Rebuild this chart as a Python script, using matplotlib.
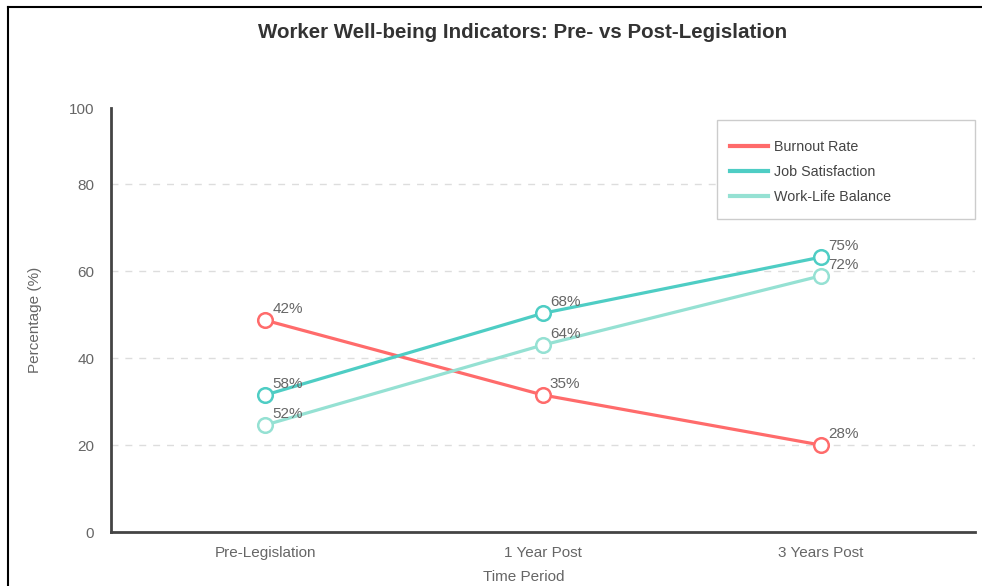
import matplotlib
matplotlib.use("Agg")
import matplotlib.pyplot as plt
from matplotlib.lines import Line2D
from matplotlib.patches import Rectangle

plt.rcParams['font.family'] = ['Liberation Sans', 'DejaVu Sans']

categories = ["Pre-Legislation", "1 Year Post", "3 Years Post"]
series_names = ["Burnout Rate", "Job Satisfaction", "Work-Life Balance"]
burnout = [48.7, 31.5, 20.0]
job_satisfaction = [31.5, 50.3, 63.2]
work_life = [24.6, 43.0, 58.9]
burnout_labels = ["42%", "35%", "28%"]
job_labels = ["58%", "68%", "75%"]
wlb_labels = ["52%", "64%", "72%"]
colors = ["#FF6B6B", "#4ECDC4", "#95E1D3"]
ytick_vals = [0, 20, 40, 60, 80, 97.5]
ytick_labels = ["0", "20", "40", "60", "80", "100"]
grid_vals = [20, 40, 60, 80]

W, H = 982, 586
fig = plt.figure(figsize=(W / 100, H / 100), dpi=100)

# outer frame (top and left visible)
fig.add_artist(Line2D([8 / W, 8 / W], [0, 1 - 7 / H], transform=fig.transFigure, color="black", lw=1.5))
fig.add_artist(Line2D([8 / W, 1], [1 - 7 / H, 1 - 7 / H], transform=fig.transFigure, color="black", lw=1.5))

left, right, top, bottom = 111, 975, 108, 532
ax = fig.add_axes([left / W, (H - bottom) / H, (right - left) / W, (bottom - top) / H])


def px2ax(px, py):
    return (px - left) / (right - left), (bottom - py) / (bottom - top)


x = list(range(len(categories)))
all_vals = [burnout, job_satisfaction, work_life]
all_labels = [burnout_labels, job_labels, wlb_labels]

for g in grid_vals:
    ax.axhline(g, color="#dddddd", lw=1, ls=(0, (5, 5)), zorder=0)

for vals, labs, name, c in zip(all_vals, all_labels, series_names, colors):
    ax.plot(x, vals, color=c, lw=2.3, marker="o", markersize=10.5, markerfacecolor="white",
            markeredgecolor=c, markeredgewidth=1.8, label=name, zorder=3)
    for xi, v, lab in zip(x, vals, labs):
        ax.annotate(lab, (xi, v), xytext=(5, 3), textcoords="offset points",
                    ha="left", va="bottom", fontsize=11, color="#666666", zorder=4)

ax.set_xlim(-0.555, 2.555)
ax.set_ylim(0, 97.5)
ax.set_xticks(x)
ax.set_xticklabels(categories)
ax.set_yticks(ytick_vals)
ax.set_yticklabels(ytick_labels)
ax.tick_params(axis="both", length=0, labelsize=11, labelcolor="#666666")
ax.tick_params(axis="x", pad=10)
ax.tick_params(axis="y", pad=12)

for s in ["top", "right"]:
    ax.spines[s].set_visible(False)
for s in ["left", "bottom"]:
    ax.spines[s].set_color("#444444")
    ax.spines[s].set_linewidth(2)

ax.set_xlabel("Time Period", fontsize=11, color="#666666")
ax.xaxis.label.set_va("center")
ax.xaxis.set_label_coords(*px2ax(524, 577), transform=ax.transAxes)
ax.set_ylabel("Percentage (%)", fontsize=11, color="#666666")
ax.yaxis.label.set_va("center")
ax.yaxis.set_label_coords(*px2ax(35, 320), transform=ax.transAxes)

fig.text(523 / W, 1 - 33 / H, "Worker Well-being Indicators: Pre- vs Post-Legislation",
         ha="center", va="center", fontsize=14.8, fontweight="bold", color="#333333")

# legend box
bx0, by0 = px2ax(717, 219)
bx1, by1 = px2ax(975, 120)
ax.add_patch(Rectangle((bx0, by0), bx1 - bx0, by1 - by0, transform=ax.transAxes,
                       facecolor="white", edgecolor="#cccccc", lw=1, zorder=5, clip_on=False))
leg = ax.legend(loc="upper left", bbox_to_anchor=px2ax(730, 140),
                frameon=False, fontsize=10.3, handlelength=2.65, handletextpad=0.45,
                borderpad=0, labelspacing=0.78, borderaxespad=0)
leg.set_zorder(6)
for t in leg.get_texts():
    t.set_color("#444444")
for h in leg.legend_handles:
    h.set_marker("")
    h.set_linewidth(3)

fig.savefig("out.png", dpi=100)
